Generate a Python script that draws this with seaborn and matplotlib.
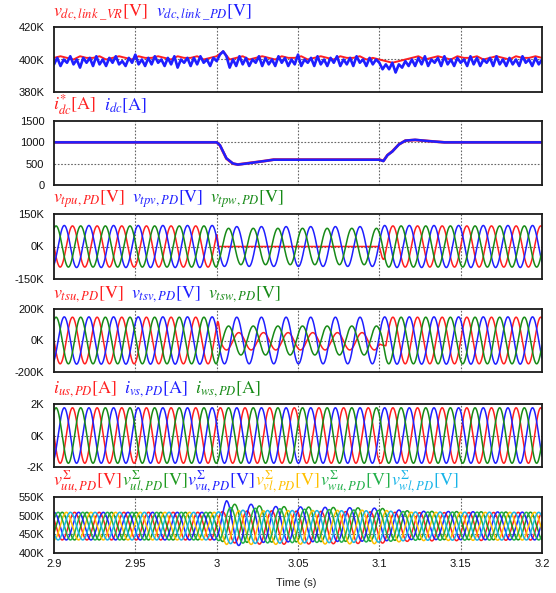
import numpy as np
import pandas as pd
import matplotlib
matplotlib.use("Agg")
import matplotlib.pyplot as plt
import seaborn as sns

# ---------------- data ----------------
F_HZ = 66.0          # fundamental frequency of the ac waveforms
T0 = 2.9             # start of the time window
X_TICKS = [2.9, 2.95, 3.0, 3.05, 3.1, 3.15, 3.2]
X_TICK_LABELS = ["2.9", "2.95", "3", "3.05", "3.1", "3.15", "3.2"]

# Panel 1: dc-link voltages [kV]
VDC_PD_DT = 0.002
VDC_PD = [397, 401, 396, 400, 398, 402, 397, 400, 395, 401,
          398, 401, 396, 402, 397, 400, 396, 401, 398, 402,
          397, 399, 396, 401, 398, 403, 397, 400, 396, 401,
          397, 402, 398, 400, 396, 401, 397, 402, 395, 400,
          398, 401, 396, 401, 397, 402, 398, 400, 396, 401,
          399, 403, 405, 402, 395,
          400, 396, 402, 397, 401, 396, 400, 398, 402, 396,
          401, 397, 400, 396, 402, 398, 401, 396, 400, 397,
          403, 396, 400, 398, 401, 396, 402, 397, 400, 396,
          401, 398, 402, 396, 400, 397, 401, 396, 402, 398,
          400, 396, 401, 397, 400,
          398, 394, 397, 394, 398, 392, 397, 395, 399, 396,
          400, 396, 401, 397, 402, 396, 400, 398, 401, 396,
          402, 397, 400, 396, 401, 398, 400, 396, 402, 397,
          401, 396, 400, 398, 401, 396, 402, 397, 400, 396,
          401, 397, 400, 396, 402, 398, 400, 396, 401, 397,
          400]
VDC_VR_DT = 0.004
VDC_VR = [401, 402, 401, 400, 402, 401, 401, 402, 400, 401,
          402, 401, 400, 402, 401, 401, 402, 401, 400, 402,
          401, 401, 402, 400, 401,
          402, 405, 400,
          401, 402, 400, 401, 402, 401, 400, 402, 401, 401,
          402, 400, 401, 402, 401, 400, 402, 401, 401, 402,
          400, 401,
          400, 399, 398, 399, 400,
          401, 402, 400, 401, 402, 401, 400, 402, 401, 401,
          402, 400, 401, 402, 401, 400, 402, 401, 401, 402,
          401]

# Panel 2: dc currents [A]
T_IDC = [2.9, 3.0, 3.002, 3.006, 3.010, 3.013, 3.02, 3.03, 3.035, 3.1,
         3.1025, 3.105, 3.108, 3.112, 3.116, 3.122, 3.13, 3.14, 3.2]
IDC_REF = [1000, 1000, 930, 620, 500, 480, 515, 565, 595, 595,
           565, 700, 790, 950, 1040, 1055, 1030, 1000, 1000]
IDC = [1000, 1000, 935, 625, 505, 478, 512, 565, 592, 592,
       560, 700, 785, 950, 1040, 1060, 1030, 1000, 1000]

# Panel 3: v_tp (kV) - knots, amplitudes, phases (deg)
T3 = [2.9, 3.0, 3.001, 3.1, 3.103, 3.2]
TPU_AMP = [95, 95, 0, 0, 95, 95]
TPV_AMP = [97, 97, 92, 92, 97, 97]
TPW_AMP = [95, 95, 84, 84, 95, 95]
TP_PHASE = [180, 300, 60]

# Panel 4: v_ts (kV)
T4 = [2.9, 3.0, 3.003, 3.1, 3.104, 3.2]
TSU_AMP = [148, 148, 55, 55, 148, 148]
TSU_OFF = [0, 0, -5, -5, 0, 0]
TSU_PH = [180, 180, 270, 270, 180, 180]
TSV_AMP = [150, 150, 148, 148, 150, 150]
TSW_AMP = [148, 148, 92, 92, 148, 148]
TS_PHASE = [180, 300, 60]

# Panel 5: output currents (kA)
IS_AMP = 1.76
IS_PHASE = [180, 300, 60]

# Panel 6: arm sum voltages (kV)
T6 = [2.9, 3.0, 3.006, 3.03, 3.1, 3.12, 3.2]
ARM_NAMES = ["uu", "ul", "vu", "vl", "wu", "wl"]
ARM_AMP = {
    "uu": [37, 37, 42, 45, 42, 38, 37],
    "ul": [37, 37, 52, 48, 44, 38, 37],
    "vu": [37, 37, 62, 48, 44, 38, 37],
    "vl": [37, 37, 45, 45, 45, 38, 37],
    "wu": [37, 37, 48, 46, 42, 38, 37],
    "wl": [37, 37, 45, 44, 42, 38, 37],
}
ARM_OFF = {
    "uu": [472, 472, 470, 468, 468, 470, 472],
    "ul": [472, 472, 480, 477, 476, 474, 472],
    "vu": [472, 472, 478, 477, 476, 474, 472],
    "vl": [472, 472, 468, 468, 470, 471, 472],
    "wu": [472, 472, 474, 473, 472, 472, 472],
    "wl": [472, 472, 470, 470, 471, 472, 472],
}
ARM_PHASE = {"uu": 150, "ul": 330, "vu": 90, "vl": 270, "wu": 30, "wl": 210}

# ---------------- styling ----------------
RED, BLUE, GREEN = "#ff2020", "#1f1fff", "#178a17"
ARM_COLORS = {"uu": "#ff2020", "ul": "#1f9a1f", "vu": "#1f1fff",
              "vl": "#ffc000", "wu": "#22b04a", "wl": "#18b4e8"}

sns.set_style("white")
plt.rcParams["font.family"] = ["Liberation Sans", "DejaVu Sans"]
plt.rcParams["mathtext.fontset"] = "stix"

W, H = 556, 593
fig = plt.figure(figsize=(W / 100, H / 100), dpi=100)
renderer = fig.canvas.get_renderer()

PANELS_PX = [(27, 92), (121, 185), (214, 279), (309, 372), (404, 467), (497, 553)]
AX_L, AX_R = 54, 542
axes = []
for top, bot in PANELS_PX:
    ax = fig.add_axes([AX_L / W, 1 - bot / H, (AX_R - AX_L) / W, (bot - top) / H])
    axes.append(ax)

t = np.linspace(T0, 3.2, 4001)


def wave(knots, amp, off, ph):
    a = np.interp(t, knots, amp)
    o = np.interp(t, knots, off)
    p = np.interp(t, knots, ph)
    return o + a * np.sin(2 * np.pi * F_HZ * (t - T0) + np.deg2rad(p))


def draw(ax, x, y, color, lw=1.1):
    sns.lineplot(x=np.asarray(x), y=np.asarray(y), ax=ax, color=color,
                 linewidth=lw, estimator=None, legend=False)


# Panel 1
ax = axes[0]
t_vr = T0 + VDC_VR_DT * np.arange(len(VDC_VR))
t_pd = T0 + VDC_PD_DT * np.arange(len(VDC_PD))
draw(ax, t_vr, VDC_VR, RED, 1.4)
draw(ax, t_pd, VDC_PD, BLUE, 1.9)

# Panel 2
ax = axes[1]
draw(ax, T_IDC, IDC_REF, RED, 2.0)
draw(ax, T_IDC, IDC, BLUE, 1.8)

# Panel 3
ax = axes[2]
n3 = len(T3)
draw(ax, t, wave(T3, TPU_AMP, [0] * n3, [TP_PHASE[0]] * n3), RED)
draw(ax, t, wave(T3, TPV_AMP, [0] * n3, [TP_PHASE[1]] * n3), BLUE)
draw(ax, t, wave(T3, TPW_AMP, [0] * n3, [TP_PHASE[2]] * n3), GREEN)

# Panel 4
ax = axes[3]
n4 = len(T4)
draw(ax, t, wave(T4, TSU_AMP, TSU_OFF, TSU_PH), RED)
draw(ax, t, wave(T4, TSV_AMP, [0] * n4, [TS_PHASE[1]] * n4), BLUE)
draw(ax, t, wave(T4, TSW_AMP, [0] * n4, [TS_PHASE[2]] * n4), GREEN)

# Panel 5
ax = axes[4]
for ph, col in zip(IS_PHASE, [RED, BLUE, GREEN]):
    draw(ax, t, wave([T0, 3.2], [IS_AMP, IS_AMP], [0, 0], [ph, ph]), col)

# Panel 6
ax = axes[5]
n6 = len(T6)
for nm in ARM_NAMES:
    draw(ax, t, wave(T6, ARM_AMP[nm], ARM_OFF[nm], [ARM_PHASE[nm]] * n6),
         ARM_COLORS[nm], 1.1)

# axes formatting
YCFG = [
    ((380, 420), [380, 400, 420], ["380K", "400K", "420K"], [400]),
    ((0, 1500), [0, 500, 1000, 1500], ["0", "500", "1000", "1500"], [500, 1000]),
    ((-150, 150), [-150, 0, 150], ["-150K", "0K", "150K"], [0]),
    ((-200, 200), [-200, 0, 200], ["-200K", "0K", "200K"], [0]),
    ((-2, 2), [-2, 0, 2], ["-2K", "0K", "2K"], [0]),
    ((400, 550), [400, 450, 500, 550], ["400K", "450K", "500K", "550K"], [450, 500]),
]
for i, (ax, (ylim, yt, ytl, grid_y)) in enumerate(zip(axes, YCFG)):
    ax.set_xlim(2.9, 3.2)
    ax.set_ylim(*ylim)
    ax.set_yticks(yt)
    ax.set_yticklabels(ytl)
    ax.set_xticks(X_TICKS)
    if i == len(axes) - 1:
        ax.set_xticklabels(X_TICK_LABELS)
    else:
        ax.set_xticklabels([])
    ax.set_xlabel("")
    ax.set_ylabel("")
    ax.tick_params(length=0, labelsize=8, pad=7, colors="#111111")
    for xv in X_TICKS[1:-1]:
        ax.axvline(xv, color="#666666", lw=0.8, ls=(0, (1.5, 1.5)), zorder=0)
    for yv in grid_y:
        ax.axhline(yv, color="#666666", lw=0.8, ls=(0, (1.5, 1.5)), zorder=0)
    for sp in ax.spines.values():
        sp.set_color("#1a1a1a")
        sp.set_linewidth(1.3)
        sp.set_visible(True)
axes[-1].tick_params(axis="x", pad=4)

fig.text(296 / W, 1 - 583 / H, "Time (s)", ha="center", va="center", fontsize=8)

# colored labels above each panel
LABELS = [
    ([(r"$v_{dc,link\ \_VR}\mathrm{[V]}$", RED), (r"$v_{dc,link\ \_PD}\mathrm{[V]}$", BLUE)], 8),
    ([(r"$i^{*}_{dc}\mathrm{[A]}$", RED), (r"$i_{dc}\mathrm{[A]}$", BLUE)], 8),
    ([(r"$v_{tpu,PD}\mathrm{[V]}$", RED), (r"$v_{tpv,PD}\mathrm{[V]}$", BLUE),
      (r"$v_{tpw,PD}\mathrm{[V]}$", GREEN)], 7),
    ([(r"$v_{tsu,PD}\mathrm{[V]}$", RED), (r"$v_{tsv,PD}\mathrm{[V]}$", BLUE),
      (r"$v_{tsw,PD}\mathrm{[V]}$", GREEN)], 7),
    ([(r"$i_{us,PD}\mathrm{[A]}$", RED), (r"$i_{vs,PD}\mathrm{[A]}$", BLUE),
      (r"$i_{ws,PD}\mathrm{[A]}$", GREEN)], 7),
    ([(r"$v^{\Sigma}_{uu,PD}\mathrm{[V]}$", ARM_COLORS["uu"]),
      (r"$v^{\Sigma}_{ul,PD}\mathrm{[V]}$", ARM_COLORS["ul"]),
      (r"$v^{\Sigma}_{vu,PD}\mathrm{[V]}$", ARM_COLORS["vu"]),
      (r"$v^{\Sigma}_{vl,PD}\mathrm{[V]}$", ARM_COLORS["vl"]),
      (r"$v^{\Sigma}_{wu,PD}\mathrm{[V]}$", ARM_COLORS["wu"]),
      (r"$v^{\Sigma}_{wl,PD}\mathrm{[V]}$", ARM_COLORS["wl"])], 0),
]
for (top, bot), (items, gap) in zip(PANELS_PX, LABELS):
    x = 53
    y = 1 - (top - 11) / H
    for txt, col in items:
        tx = fig.text(x / W, y, txt, color=col, fontsize=13, ha="left", va="baseline")
        w = tx.get_window_extent(renderer).width
        x += w + gap

fig.savefig("out.png", dpi=100)
